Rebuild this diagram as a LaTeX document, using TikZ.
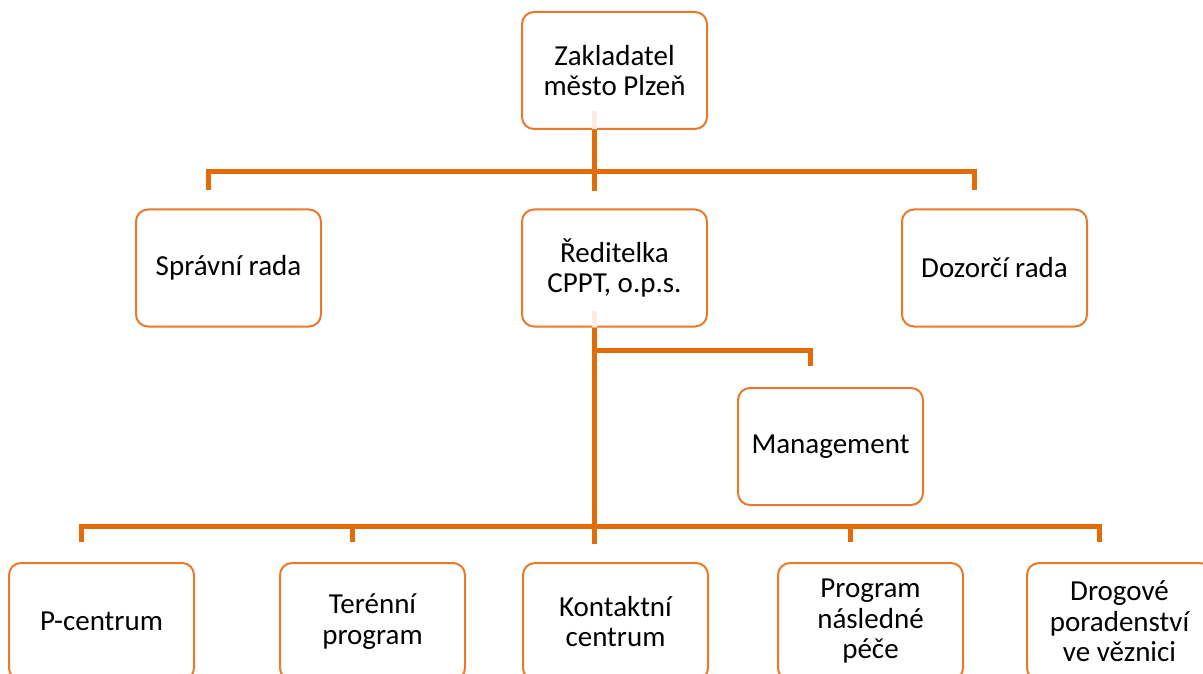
\documentclass[tikz,border=0pt]{standalone}
\usepackage{fontspec}
\setmainfont{Carlito}
\definecolor{boxorange}{RGB}{233,122,44}
\definecolor{lineorange}{RGB}{227,108,10}
\begin{document}
\begin{tikzpicture}[x=1pt,y=-1pt,
  orgbox/.style={draw=boxorange, line width=2pt, rounded corners=12pt, fill=white,
    minimum width=185pt, minimum height=117pt, align=center, inner sep=2pt,
    font=\fontsize{29}{30.5}\selectfont, text=black},
  conn/.style={draw=lineorange, line width=5pt, line join=miter, line cap=butt},
  faint/.style={draw=lineorange!12, line width=5pt}]
\useasboundingbox (0,0) rectangle (1203,674);
% nodes
\node[orgbox] (zak) at (614.5,70.5) {Zakladatel\\město Plzeň};
\node[orgbox] (spr) at (228.5,268) {Správní rada};
\node[orgbox] (red) at (614.5,268) {Ředitelka\\CPPT, o.p.s.};
\node[orgbox] (doz) at (994.5,268) {Dozorčí rada};
\node[orgbox] (man) at (830.5,446.5) {Management};
\node[orgbox] (pc)  at (101.5,621.5) {P-centrum};
\node[orgbox] (ter) at (372.5,621.5) {Terénní\\program};
\node[orgbox] (kon) at (615.5,621.5) {Kontaktní\\centrum};
\node[orgbox] (prg) at (870.5,621.5) {Program\\následné\\péče};
\node[orgbox] (drg) at (1119.5,621.5) {Drogové\\poradenství\\ve věznici};
% faint segments inside boxes
\draw[faint] ([xshift=-20.5pt,yshift=19pt]zak.south) -- ([xshift=-20.5pt,yshift=1pt]zak.south);
\draw[faint] ([xshift=-20.5pt,yshift=17pt]red.south) -- ([xshift=-20.5pt,yshift=1pt]red.south);
% top level
\draw[conn] ([xshift=-20.5pt]zak.south) -- ([xshift=-20.5pt,yshift=17pt]red.north);
\draw[conn] ([xshift=-20.5pt,yshift=18pt]spr.north) -- ++(0,-19) -| ([xshift=-20.5pt,yshift=18pt]doz.north);
% management branch
\draw[conn] ([xshift=-20.5pt,yshift=21pt]man.north) |- ([xshift=-20.5pt,yshift=-23pt]red.south);
% trunk to bottom
\draw[conn] ([xshift=-20.5pt]red.south) -- ([xshift=-21.5pt,yshift=18pt]kon.north);
\draw[conn] ([xshift=-20.5pt,yshift=20pt]pc.north) -- ++(0,-16) -| ([xshift=-20.5pt,yshift=20pt]drg.north);
\draw[conn] ([xshift=-20.5pt,yshift=20pt]ter.north) -- ++(0,-17);
\draw[conn] ([xshift=-20.5pt,yshift=20pt]prg.north) -- ++(0,-17);
\end{tikzpicture}
\end{document}
